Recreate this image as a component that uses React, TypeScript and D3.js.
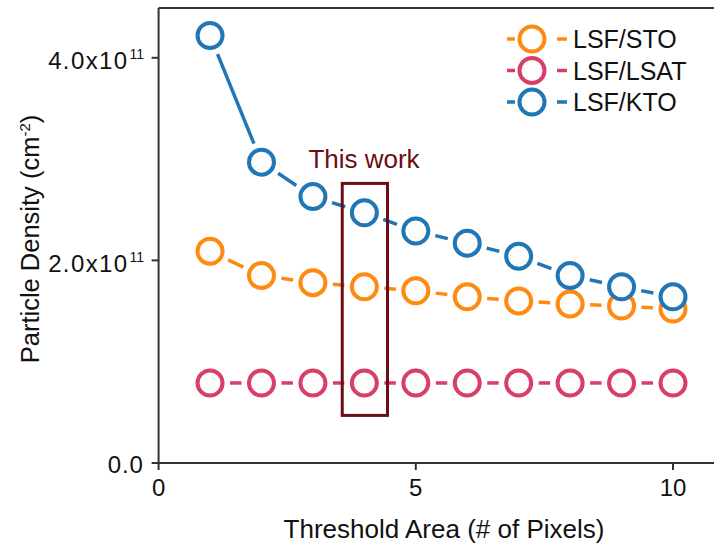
import React from "react";
import * as d3 from "d3";

// Threshold area in pixels
const thresholds = [1, 2, 3, 4, 5, 6, 7, 8, 9, 10];

// Particle density (cm^-2) per substrate
const stoDensity = [2.09e11, 1.85e11, 1.78e11, 1.74e11, 1.70e11, 1.64e11, 1.60e11, 1.57e11, 1.55e11, 1.52e11];
const lsatDensity = [0.79e11, 0.79e11, 0.79e11, 0.79e11, 0.79e11, 0.79e11, 0.79e11, 0.79e11, 0.79e11, 0.79e11];
const ktoDensity = [4.22e11, 2.97e11, 2.63e11, 2.47e11, 2.29e11, 2.17e11, 2.04e11, 1.85e11, 1.74e11, 1.64e11];

const seriesNames = ["LSF/STO", "LSF/LSAT", "LSF/KTO"];
const seriesColors = ["#ff8a12", "#d83f68", "#2177b5"];

const xTicks = [0, 5, 10];
const yTicks = [0, 2e11, 4e11];

// Highlighted threshold ("This work")
const highlightX = [3.57, 4.45];
const highlightY = [0.47e11, 2.76e11];

const W = 714;
const H = 550;
const FONT = "'Liberation Sans', Arial, Helvetica, sans-serif";

export default function App() {
  const x = d3.scaleLinear().domain([0, 10]).range([158.6, 673]);
  const y = d3.scaleLinear().domain([0, 4e11]).range([463, 57.8]);
  const left = x(0);
  const bottom = y(0);
  const top = 8;
  const right = W;

  const data = [stoDensity, lsatDensity, ktoDensity];
  const r = 12.5;
  const gap = 20;

  const segments = (vals: number[]) => {
    const segs: { x1: number; y1: number; x2: number; y2: number }[] = [];
    for (let i = 0; i < vals.length - 1; i++) {
      const ax = x(thresholds[i]);
      const ay = y(vals[i]);
      const bx = x(thresholds[i + 1]);
      const by = y(vals[i + 1]);
      const dx = bx - ax;
      const dy = by - ay;
      const len = Math.hypot(dx, dy);
      if (len <= 2 * gap) continue;
      const ux = dx / len;
      const uy = dy / len;
      segs.push({ x1: ax + ux * gap, y1: ay + uy * gap, x2: bx - ux * gap, y2: by - uy * gap });
    }
    return segs;
  };

  const fmtY = (v: number) => {
    if (v === 0) return { base: "0.0", exp: "" };
    const e = Math.floor(Math.log10(v));
    return { base: (v / Math.pow(10, e)).toFixed(1) + "x10", exp: String(e) };
  };

  const axisColor = "#333";

  return (
    <svg width={W} height={H} style={{ position: "absolute", left: 0, top: 0, background: "#fff" }}>
      {/* frame */}
      <line x1={left} y1={top} x2={right} y2={top} stroke={axisColor} strokeWidth={2} />
      <line x1={left} y1={top} x2={left} y2={bottom} stroke={axisColor} strokeWidth={2} />
      <line x1={left} y1={bottom} x2={right} y2={bottom} stroke={axisColor} strokeWidth={2} />

      {/* y ticks */}
      {yTicks.map((t) => {
        const f = fmtY(t);
        return (
          <g key={"y" + t}>
            <line x1={left - 7} x2={left} y1={y(t)} y2={y(t)} stroke={axisColor} strokeWidth={2} />
            <text
              x={f.exp ? left - 30 : left - 15}
              y={y(t) + (f.exp ? 11.5 : 9.5)}
              textAnchor="end"
              fontFamily={FONT}
              fontSize={24}
              letterSpacing={f.exp ? 1.4 : 0.8}
              fill="#111"
            >
              {f.base}
            </text>
            {f.exp && (
              <text x={left - 29} y={y(t) + 1.5} textAnchor="start" fontFamily={FONT} fontSize={14} fill="#111">
                {f.exp}
              </text>
            )}
          </g>
        );
      })}

      {/* x ticks */}
      {xTicks.map((t) => (
        <g key={"x" + t}>
          <line x1={x(t)} x2={x(t)} y1={bottom} y2={bottom + 7} stroke={axisColor} strokeWidth={2} />
          <text x={x(t)} y={bottom + 33} textAnchor="middle" fontFamily={FONT} fontSize={24} fill="#111">
            {t}
          </text>
        </g>
      ))}

      {/* axis titles */}
      <text x={444} y={538} textAnchor="middle" fontFamily={FONT} fontSize={26} fill="#111">
        Threshold Area (# of Pixels)
      </text>
      <text transform="translate(39,239) rotate(-90)" textAnchor="middle" fontFamily={FONT} fontSize={25.5} fill="#111">
        Particle Density (cm
        <tspan dy={-9} fontSize={15}>-2</tspan>
        <tspan dy={9}>)</tspan>
      </text>

      {/* series */}
      {data.map((vals, si) => (
        <g key={seriesNames[si]}>
          {segments(vals).map((s, i) => (
            <line key={i} {...s} stroke={seriesColors[si]} strokeWidth={3.5} />
          ))}
          {vals.map((v, i) => (
            <circle key={i} cx={x(thresholds[i])} cy={y(v)} r={r} fill="#fdfdfd" stroke={seriesColors[si]} strokeWidth={4} />
          ))}
        </g>
      ))}

      {/* highlight box */}
      <rect
        x={x(highlightX[0])}
        y={y(highlightY[1])}
        width={x(highlightX[1]) - x(highlightX[0])}
        height={y(highlightY[0]) - y(highlightY[1])}
        fill="none"
        stroke="#6b0d12"
        strokeWidth={3}
      />
      <text x={364} y={168} textAnchor="middle" fontFamily={FONT} fontSize={26} fill="#6b0d12">
        This work
      </text>

      {/* legend */}
      {seriesNames.map((name, i) => {
        const cy = 39 + i * 31.5;
        return (
          <g key={name}>
            <line x1={507} x2={515} y1={cy} y2={cy} stroke={seriesColors[i]} strokeWidth={3.5} />
            <line x1={557} x2={567} y1={cy} y2={cy} stroke={seriesColors[i]} strokeWidth={3.5} />
            <circle cx={532} cy={cy} r={r} fill="#fdfdfd" stroke={seriesColors[i]} strokeWidth={4} />
            <text x={573} y={cy + 9} fontFamily={FONT} fontSize={25} fill="#111">
              {name}
            </text>
          </g>
        );
      })}
    </svg>
  );
}
